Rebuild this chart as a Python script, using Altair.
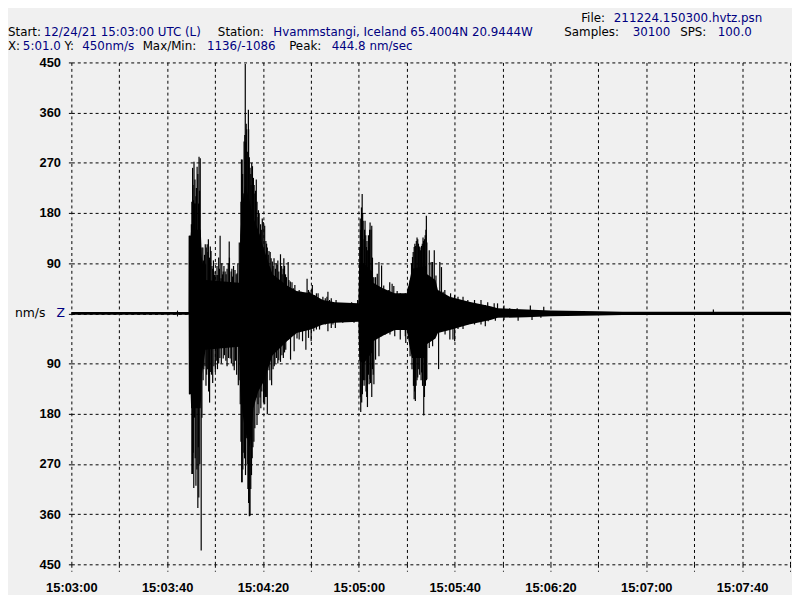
import altair as alt
import pandas as pd

# ---- data (seconds after 15:03:00 UTC, nm/s) ----
# solid core envelope of the trace
body_t = [0, 44.0, 44.3, 44.6, 49.0, 49.1, 49.8, 50.0, 54.0, 54.5, 56.0, 70.0, 70.5,
          71.5, 72.5, 74.5, 76.0, 78.0, 80.0, 82.0, 84.0, 90.0, 94.0, 100.0, 105.0, 110.0,
          119.8, 120.2, 122.0, 125.5, 126.0, 130.0, 135.0, 140.0, 141.0, 142.2, 148.0, 148.5,
          152.0, 153.0, 158.0, 166.0, 175.0, 178.0, 190.0, 200.0, 220.0, 230.0, 300.0]
body_top = [2.5, 2.5, 6, 2.5, 2.5, 139, 139, 150, 150, 100, 60, 55, 140,
            200, 230, 200, 170, 150, 120, 95, 70, 50, 40, 36, 24, 20,
            18, 90, 90, 75, 55, 45, 36, 36, 55, 80, 85, 70,
            60, 42, 30, 21, 13, 9, 7, 5, 4, 3, 3]
body_bot = [-2.5, -2.5, -7, -2.5, -2.5, -145, -145, -170, -170, -110, -65, -60, -140,
            -180, -210, -240, -170, -140, -125, -100, -75, -50, -35, -29, -20, -17,
            -15, -85, -90, -70, -50, -40, -30, -30, -55, -80, -80, -55,
            -45, -35, -30, -20, -12, -8, -7, -5, -4, -3, -3]

# upward spikes
up_t = [49.2, 49.6, 50.1, 50.3, 50.6, 50.8, 51.0, 51.2, 51.4, 51.6, 51.7, 52.0, 52.2, 52.5,
        52.8, 53.1, 53.3, 53.5, 53.8,
        54.5, 54.9, 55.1, 55.3, 55.6, 55.9, 56.0, 56.3, 56.7, 57.0, 57.2, 57.5, 57.7, 58.0,
        58.3, 58.7, 59.0, 59.3, 59.7, 60.0, 60.4, 60.8, 61.1, 61.5, 61.8, 62.1, 62.5, 62.8,
        63.1, 63.4, 63.7, 64.2, 64.6, 65.0, 65.5, 65.9, 66.0, 66.7, 67.0, 67.3, 67.7, 68.3,
        68.8, 69.2, 69.5, 70.1, 70.5, 70.8, 71.0, 71.3, 71.5, 71.7, 72.1, 72.4, 72.6, 72.8,
        73.0, 73.2, 73.6, 73.9, 74.0, 74.3, 74.6, 74.9, 75.0, 75.3, 75.6, 76.0, 76.3, 76.6,
        76.9, 77.2, 77.5, 77.9, 78.1, 78.4, 78.8, 79.0, 79.3, 79.7, 80.1, 80.7, 81.2, 81.5,
        81.8, 82.2, 82.5, 83.0, 83.4, 83.9, 84.2, 84.6, 85.2, 85.5, 85.9, 86.2, 86.6, 87.3,
        87.8, 88.0, 88.4, 88.7, 89.0, 89.4, 89.8, 90.5, 90.8, 91.0, 91.4, 92.1, 92.7, 93.3,
        94.4, 95.1, 95.8, 96.5, 97.5, 98.4, 99.0, 99.5, 100.1, 100.6, 101.6, 102.3, 103.0,
        104.3, 105.0, 106.0, 106.7, 107.1, 107.8, 108.5, 109.2, 110.5, 111.2, 112.6, 113.3,
        115.0, 117.0, 119.5, 120.4, 120.6, 120.8, 121.1, 121.4, 121.6, 121.8, 122.2, 122.4,
        122.6, 122.9, 123.2, 123.4, 123.7, 124.0, 124.3, 124.5, 124.7, 125.1, 125.4, 125.7,
        125.9, 126.3, 127.0, 127.7, 128.4, 129.5, 130.4, 131.1, 132.5, 132.9, 133.9, 134.6,
        136.0, 137.3, 139.4, 140.7, 141.4, 142.0, 142.4, 142.7, 143.1, 143.4, 143.6, 144.0,
        144.3, 144.6, 144.9, 145.1, 145.4, 145.7, 146.0, 146.2, 146.5, 146.8, 147.0, 147.4,
        147.7, 148.0, 148.2, 148.4, 149.4, 150.2, 150.8, 151.5, 152.2, 153.8, 154.5, 155.2,
        155.9, 158.3, 160.0, 161.4, 163.5, 165.5, 168.3, 171.0, 172.8, 173.8, 176.5, 177.9,
        180.6, 183.0, 186.1, 191.6, 197.2, 268.0]
up_v = [139, 139, 160, 200, 261, 230, 203, 272, 197, 240, 197, 210, 225, 263,
        250, 197, 281, 220, 278,
        118, 118, 95, 93, 105, 124, 88, 118, 124, 110, 133, 95, 100, 120,
        112, 85, 80, 95, 69, 75, 69, 85, 69, 100, 80, 139, 63, 90,
        70, 75, 85, 75, 70, 80, 90, 129, 100, 75, 80, 66, 85, 78,
        70, 72, 90, 127, 87, 200, 276, 276, 250, 215, 308, 320, 447, 307,
        340, 330, 290, 365, 330, 280, 261, 250, 230, 270, 264, 243, 230, 215,
        220, 240, 200, 173, 185, 180, 142, 160, 150, 170, 164, 157, 130, 125,
        118, 105, 112, 110, 99, 93, 85, 99, 80, 90, 87, 95, 75, 106,
        85, 70, 80, 99, 85, 70, 65, 92, 60, 45, 57, 56, 45, 51,
        33, 42, 39, 36, 30, 62, 42, 39, 42, 51, 33, 36, 36,
        24, 30, 27, 30, 39, 24, 27, 18, 24, 18, 15, 18,
        18, 20, 24, 119, 170, 150, 190, 214, 180, 166, 133, 150,
        166, 140, 119, 130, 113, 140, 119, 150, 163, 150, 157, 100,
        65, 65, 65, 71, 92, 86, 50, 42, 42, 56, 53, 49,
        40, 36, 36, 48, 59, 90, 101, 110, 119, 125, 121, 130,
        136, 133, 125, 116, 120, 113, 118, 121, 125, 136, 130, 133,
        140, 150, 175, 127, 113, 92, 92, 113, 68, 92, 83, 39,
        42, 36, 33, 30, 30, 24, 24, 24, 15, 20, 18, 18,
        14, 9, 9, 14, 12, 7]

# downward spikes
dn_t = [49.3, 50.3, 50.6, 50.9, 51.1, 51.4, 51.7, 52.0, 52.4, 52.8, 53.0, 53.2, 53.6, 54.2,
        54.5, 55.0, 55.3, 55.8, 56.2, 56.5, 56.9, 57.3, 57.7, 58.0, 58.5, 59.0, 59.5, 60.1,
        60.5, 61.0, 61.5, 62.0, 62.6, 63.4, 63.9, 64.5, 65.0, 65.6, 66.3, 66.8, 67.5, 68.0,
        68.5, 69.0, 69.7, 70.0, 70.5, 70.8, 71.1, 71.3, 71.6, 72.0, 72.3, 72.7, 73.2, 73.4,
        73.7, 74.0, 74.3, 74.6, 74.9, 75.2, 75.5, 75.8, 76.2, 76.6, 77.2, 77.5, 77.9, 78.3,
        78.8, 79.1, 79.5, 80.2, 80.4, 80.7, 81.0, 81.4, 81.8, 82.5, 82.9, 83.6, 84.2, 84.7,
        85.0, 85.6, 86.2, 86.6, 87.3, 87.9, 88.5, 89.0, 89.5, 90.7, 91.5, 92.1, 93.0, 93.3,
        94.2, 95.1, 96.5, 97.9, 99.0, 100.1, 101.2, 102.3, 103.6, 105.0, 106.0, 107.1, 108.5,
        109.2, 110.2, 111.5, 113.3, 115.0, 118.0, 120.6, 120.8, 121.2, 121.5, 121.9, 122.2,
        122.5, 123.0, 123.3, 123.6, 124.0, 124.3, 124.7, 124.9, 125.4, 125.7, 126.0, 126.3,
        127.0, 128.4, 129.5, 131.0, 133.0, 135.0, 137.3, 139.4, 139.6, 141.4, 142.2, 142.8,
        143.1, 143.3, 143.6, 143.9, 144.3, 144.6, 145.0, 145.4, 146.0, 146.2, 146.6, 147.1,
        147.4, 147.8, 148.2, 148.4, 149.4, 150.8, 151.5, 153.3, 154.5, 156.0, 158.0, 159.3,
        160.0, 161.4, 163.5, 165.5, 168.3, 171.0, 172.8, 174.0, 177.0, 180.6, 186.5, 192.3,
        196.0]
dn_v = [-145, -288, -288, -250, -313, -187, -260, -309, -280, -349, -240, -330, -270, -425,
        -187, -120, -100, -95, -130, -110, -100, -140, -160, -105, -110, -125, -95, -105,
        -85, -100, -90, -80, -90, -81, -75, -85, -95, -80, -81, -90, -95, -102,
        -85, -110, -129, -120, -163, -230, -303, -303, -280, -250, -260, -290, -224, -270,
        -315, -340, -364, -363, -315, -290, -260, -240, -230, -206, -151, -200, -163, -180,
        -151, -170, -140, -160, -145, -163, -150, -150, -181, -102, -120, -129, -100, -95,
        -90, -80, -90, -84, -87, -75, -80, -70, -65, -47, -83, -38, -68, -38,
        -45, -47, -50, -65, -44, -50, -32, -29, -29, -20, -20, -32, -26,
        -20, -26, -14, -17, -15, -17, -150, -177, -160, -145, -120, -130,
        -120, -140, -150, -168, -110, -127, -118, -125, -150, -100, -110, -127,
        -83, -77, -41, -38, -38, -41, -47, -41, -53, -77, -100, -130,
        -154, -140, -157, -130, -120, -115, -100, -110, -120, -106, -130, -183,
        -150, -130, -120, -118, -62, -59, -38, -100, -32, -38, -47, -47,
        -50, -28, -28, -20, -20, -20, -23, -14, -13, -12, -13, -12,
        -8]

x_ticks = [0, 20, 40, 60, 80, 100, 120, 140, 160, 180, 200, 220, 240, 260, 280, 300]
y_ticks = [-450, -360, -270, -180, -90, 0, 90, 180, 270, 360, 450]

# header text segments: (text, colour key)
line_file = [("File:", "k"), ("211224.150300.hvtz.psn", "b")]
line_one = [("Start:", "k"), ("12/24/21 15:03:00 UTC (L)", "b"), ("Station:", "k"),
            ("Hvammstangi, Iceland 65.4004N 20.9444W", "b"), ("Samples:", "k"),
            ("30100", "b"), ("SPS:", "k"), ("100.0", "b")]
line_two = [("X:", "k"), ("5:01.0", "b"), ("Y:", "k"), ("450nm/s", "b"), ("Max/Min:", "k"),
            ("1136/-1086", "b"), ("Peak:", "k"), ("444.8 nm/sec", "b")]

# ---- layout (pixel positions relative to plot area) ----
pos_file = [515, 548]
pos_one = [-64, -28, 148, 204, 498, 567, 615, 653]
pos_two = [-64, -49, -7, 11, 72, 137, 220, 263]
y_file, y_one, y_two = -45, -31, -17

NAVY = "#000080"
COLORS = {"k": "black", "b": NAVY}
HFONT = "DejaVu Sans"
AFONT = "Liberation Sans"
HSIZE = 12

body_df = pd.DataFrame({"t": body_t, "top": body_top, "bot": body_bot})
up_df = pd.DataFrame({"t": up_t, "v": up_v, "base": [0] * len(up_t)})
dn_df = pd.DataFrame({"t": dn_t, "v": dn_v, "base": [0] * len(dn_t)})

xscale = alt.Scale(domain=[0, 300], nice=False, zero=False)
yscale = alt.Scale(domain=[-450, 450], nice=False, zero=False)

x_axis = alt.Axis(
    values=x_ticks, title=None, grid=True, gridColor="black", gridDash=[3, 3],
    gridWidth=1, gridOpacity=1, domain=False, tickColor="black", tickDash=[3, 3],
    tickSize=7, tickWidth=1, labelFont=AFONT, labelFontWeight="bold", labelFontSize=13,
    labelColor="black", labelPadding=10, labelFlush=False, labelOverlap=False,
    labelExpr="datum.value % 40 == 0 && datum.value < 300 ? utcFormat(utc(2021, 11, 24, 15, 3, datum.value), '%H:%M:%S') : ''",
)
y_axis = alt.Axis(
    values=y_ticks, title=None, grid=True, gridColor="black", gridDash=[3, 3],
    gridWidth=1, gridOpacity=1, domain=False, tickColor="black", tickDash=[3, 3],
    tickSize=6, tickWidth=1, labelFont=AFONT, labelFontWeight="bold", labelFontSize=13,
    labelColor="black", labelPadding=5, labelFlush=False, labelOverlap=False,
    labelExpr="datum.value == 0 ? '' : format(abs(datum.value), 'd')",
)

body = alt.Chart(body_df).mark_area(color="black", interpolate="linear", opacity=1).encode(
    x=alt.X("t:Q", scale=xscale, axis=x_axis),
    y=alt.Y("top:Q", scale=yscale, axis=y_axis),
    y2="bot:Q",
)
ups = alt.Chart(up_df).mark_rule(color="black", strokeWidth=1.2).encode(
    x=alt.X("t:Q", scale=xscale), y=alt.Y("v:Q", scale=yscale), y2="base:Q"
)
dns = alt.Chart(dn_df).mark_rule(color="black", strokeWidth=1.2).encode(
    x=alt.X("t:Q", scale=xscale), y=alt.Y("v:Q", scale=yscale), y2="base:Q"
)

layers = [body, ups, dns]


def seg(txt, color, x, y, size=HSIZE):
    return alt.Chart(pd.DataFrame({"s": [txt]})).mark_text(
        align="left", baseline="middle", font=HFONT, fontSize=size, color=color,
    ).encode(x=alt.value(x), y=alt.value(y), text="s:N")


for (txt, c), x in zip(line_file, pos_file):
    layers.append(seg(txt, COLORS[c], x, y_file))
for (txt, c), x in zip(line_one, pos_one):
    layers.append(seg(txt, COLORS[c], x, y_one))
for (txt, c), x in zip(line_two, pos_two):
    layers.append(seg(txt, COLORS[c], x, y_two))

# unit / component label at zero line
layers.append(seg("nm/s", "black", -57, 253.5, 12.5))
layers.append(seg("Z", NAVY, -15, 253.5, 12.5))

chart = alt.layer(*layers).properties(
    width=726, height=507,
    padding={"left": 64, "top": 52, "right": 2, "bottom": 28},
    autosize=alt.AutoSizeParams(type="none"),
    background="#f0f0f0",
).configure_view(stroke=None)

chart.save("out.html", embed_options={"renderer": "svg", "actions": False})
